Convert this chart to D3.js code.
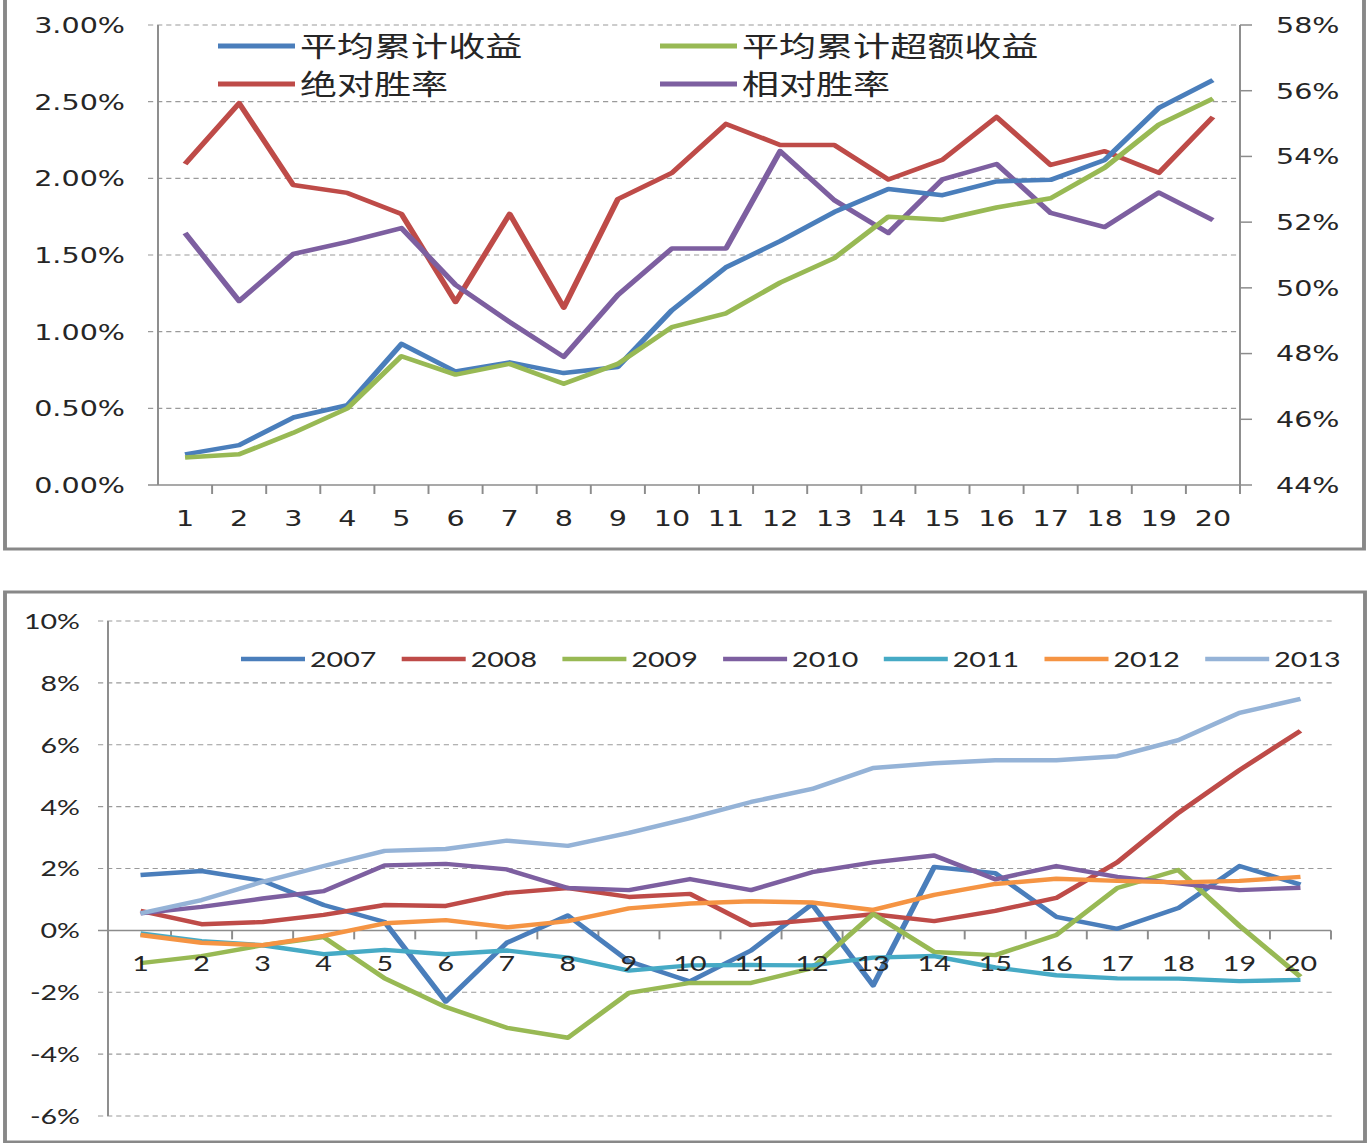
<!DOCTYPE html>
<html>
<head>
<meta charset="utf-8">
<script src="https://cdn.jsdelivr.net/npm/d3@7"></script>
<style>
  html, body { margin: 0; padding: 0; background: #fff; }
  svg { display: block; }
</style>
</head>
<body>
<svg id="chart"></svg>
<script>
// categories (holding period, days)
const days = d3.range(1, 21);

// top chart: average cumulative return (%), left axis
const avgReturn = [0.20, 0.26, 0.44, 0.52, 0.92, 0.74, 0.80, 0.73, 0.77, 1.14,
                   1.42, 1.59, 1.78, 1.93, 1.89, 1.98, 1.99, 2.12, 2.46, 2.64];
const avgExcess = [0.18, 0.20, 0.34, 0.50, 0.84, 0.72, 0.79, 0.66, 0.79, 1.03,
                   1.12, 1.32, 1.48, 1.75, 1.73, 1.81, 1.87, 2.07, 2.35, 2.52];
// top chart: win rates (%), right axis
const absWin = [53.77, 55.62, 53.13, 52.89, 52.25, 49.57, 52.25, 49.40, 52.70, 53.50,
                54.99, 54.35, 54.35, 53.30, 53.90, 55.20, 53.74, 54.16, 53.50, 55.20];
const relWin = [51.67, 49.60, 51.03, 51.40, 51.82, 50.09, 48.96, 47.90, 49.78, 51.20,
                51.20, 54.16, 52.67, 51.67, 53.30, 53.77, 52.28, 51.85, 52.90, 52.06];

const topLeftTicks = [0, 0.5, 1.0, 1.5, 2.0, 2.5, 3.0];
const topRightTicks = [44, 46, 48, 50, 52, 54, 56, 58];

// bottom chart: cumulative return by year (%)
const years = ["2007", "2008", "2009", "2010", "2011", "2012", "2013"];
const y2007 = [1.79, 1.92, 1.60, 0.82, 0.27, -2.30, -0.40, 0.48, -1.00, -1.65,
               -0.65, 0.85, -1.78, 2.05, 1.85, 0.44, 0.05, 0.72, 2.08, 1.48];
const y2008 = [0.63, 0.20, 0.27, 0.50, 0.82, 0.79, 1.21, 1.37, 1.08, 1.18,
               0.17, 0.33, 0.52, 0.30, 0.63, 1.05, 2.20, 3.80, 5.18, 6.45];
const y2009 = [-1.06, -0.83, -0.48, -0.22, -1.55, -2.48, -3.15, -3.47, -2.02, -1.70,
               -1.70, -1.22, 0.53, -0.70, -0.80, -0.15, 1.37, 1.95, 0.15, -1.50];
const y2010 = [0.55, 0.76, 1.03, 1.27, 2.10, 2.15, 1.97, 1.37, 1.30, 1.66,
               1.30, 1.88, 2.20, 2.42, 1.65, 2.08, 1.73, 1.52, 1.30, 1.38];
const y2011 = [-0.10, -0.35, -0.48, -0.77, -0.63, -0.77, -0.65, -0.88, -1.30, -1.13,
               -1.12, -1.13, -0.88, -0.83, -1.20, -1.45, -1.55, -1.56, -1.64, -1.60];
const y2012 = [-0.15, -0.40, -0.48, -0.18, 0.23, 0.33, 0.10, 0.30, 0.71, 0.87,
               0.94, 0.90, 0.66, 1.15, 1.50, 1.67, 1.60, 1.55, 1.60, 1.73];
const y2013 = [0.55, 0.98, 1.57, 2.08, 2.57, 2.63, 2.90, 2.73, 3.15, 3.63,
               4.15, 4.57, 5.25, 5.40, 5.50, 5.50, 5.63, 6.15, 7.03, 7.48];
const bottomTicks = [-6, -4, -2, 0, 2, 4, 6, 8, 10];

// the reference is stretched horizontally, so draw in a narrower box and stretch it
const W = 1368, H = 1143, S = 1.3;
const px = v => v / S;

const svg = d3.select("#chart")
    .attr("width", W)
    .attr("height", H)
    .attr("viewBox", `0 0 ${W / S} ${H}`)
    .attr("preserveAspectRatio", "none");

const gridColor = "#9a9a9a";
const axisColor = "#8c8c8c";
const textColor = "#262626";

// ---------------- top chart ----------------
const topG = svg.append("g");
const topFont = "'DejaVu Sans', Verdana, sans-serif";
const cjkFont = "'Noto Sans CJK SC', 'Noto Sans', sans-serif";

topG.append("rect")
    .attr("x", px(5)).attr("y", -4)
    .attr("width", px(1364) - px(5)).attr("height", 553)
    .attr("fill", "#fff")
    .attr("stroke", "#888").attr("stroke-width", 3);

const xT = d3.scaleBand().domain(days).range([px(158), px(1240)]);
const yL = d3.scaleLinear().domain([0, 3]).range([485, 25]);
const yR = d3.scaleLinear().domain([44, 58]).range([485, 25]);

// gridlines
topG.append("g").selectAll("line")
    .data(topLeftTicks.filter(d => d > 0))
    .enter().append("line")
    .attr("x1", px(148)).attr("x2", px(1240))
    .attr("y1", d => yL(d)).attr("y2", d => yL(d))
    .attr("stroke", gridColor).attr("stroke-width", 1.2)
    .attr("stroke-dasharray", "4,3");

// axes lines
topG.append("line")
    .attr("x1", xT.range()[0]).attr("x2", xT.range()[0])
    .attr("y1", yL(3)).attr("y2", yL(0))
    .attr("stroke", axisColor).attr("stroke-width", 1.5);
topG.append("line")
    .attr("x1", xT.range()[1]).attr("x2", xT.range()[1])
    .attr("y1", yR(58)).attr("y2", yR(44))
    .attr("stroke", axisColor).attr("stroke-width", 1.5);
topG.append("line")
    .attr("x1", px(148)).attr("x2", xT.range()[1])
    .attr("y1", yL(0)).attr("y2", yL(0))
    .attr("stroke", axisColor).attr("stroke-width", 1.5);

// right axis ticks
topG.append("g").selectAll("line")
    .data(topRightTicks)
    .enter().append("line")
    .attr("x1", xT.range()[1]).attr("x2", px(1252))
    .attr("y1", d => yR(d)).attr("y2", d => yR(d))
    .attr("stroke", axisColor).attr("stroke-width", 1.5);

// x ticks at category boundaries
topG.append("g").selectAll("line")
    .data(days.slice(1).concat([21]))
    .enter().append("line")
    .attr("x1", d => xT.range()[0] + xT.step() * (d - 1))
    .attr("x2", d => xT.range()[0] + xT.step() * (d - 1))
    .attr("y1", yL(0)).attr("y2", yL(0) + 9)
    .attr("stroke", axisColor).attr("stroke-width", 1.5);

// tick labels
topG.append("g").selectAll("text")
    .data(topLeftTicks)
    .enter().append("text")
    .attr("x", px(125)).attr("y", d => yL(d)).attr("dy", "0.36em")
    .attr("text-anchor", "end")
    .attr("font-family", topFont).attr("font-size", 22).attr("fill", textColor)
    .text(d => d3.format(".2f")(d) + "%");

topG.append("g").selectAll("text")
    .data(topRightTicks)
    .enter().append("text")
    .attr("x", px(1276)).attr("y", d => yR(d)).attr("dy", "0.36em")
    .attr("font-family", topFont).attr("font-size", 22).attr("fill", textColor)
    .text(d => d + "%");

topG.append("g").selectAll("text")
    .data(days)
    .enter().append("text")
    .attr("x", d => xT(d) + xT.bandwidth() / 2).attr("y", 518).attr("dy", "0.36em")
    .attr("text-anchor", "middle")
    .attr("font-family", topFont).attr("font-size", 22).attr("fill", textColor)
    .text(d => d);

const topSeries = [
    {name: "平均累计收益", values: avgReturn, scale: yL, color: "#4a7ebb"},
    {name: "平均累计超额收益", values: avgExcess, scale: yL, color: "#98b954"},
    {name: "绝对胜率", values: absWin, scale: yR, color: "#be4b48"},
    {name: "相对胜率", values: relWin, scale: yR, color: "#7d5fa0"}
];

// win rates first, returns on top
const drawOrder = [2, 3, 0, 1];
drawOrder.forEach(i => {
    const s = topSeries[i];
    const line = d3.line()
        .x((d, j) => xT(days[j]) + xT.bandwidth() / 2)
        .y(d => s.scale(d));
    topG.append("path")
        .datum(s.values)
        .attr("d", line)
        .attr("fill", "none")
        .attr("stroke", s.color)
        .attr("stroke-width", 4.5)
        .attr("stroke-linejoin", "round");
});

// legend (2 x 2)
const topLegend = topG.append("g").selectAll("g")
    .data(topSeries)
    .enter().append("g")
    .attr("transform", (d, i) => `translate(${px(i % 2 === 0 ? 218 : 660)},${i < 2 ? 46 : 84})`);
topLegend.append("line")
    .attr("x1", 0).attr("x2", px(77))
    .attr("stroke", d => d.color).attr("stroke-width", 5);
topLegend.append("text")
    .attr("x", px(82)).attr("dy", "0.37em")
    .attr("font-family", cjkFont).attr("font-size", 28.5).attr("fill", textColor)
    .text(d => d.name);

// ---------------- bottom chart ----------------
const botG = svg.append("g");
const botFont = "Lato, 'Open Sans', sans-serif";

botG.append("rect")
    .attr("x", px(5)).attr("y", 592)
    .attr("width", px(1365) - px(5)).attr("height", 550)
    .attr("fill", "#fff")
    .attr("stroke", "#888").attr("stroke-width", 3);

const xB = d3.scaleBand().domain(days).range([px(110), px(1331)]);
const yB = d3.scaleLinear().domain([-6, 10]).range([1116, 621]);

botG.append("g").selectAll("line")
    .data(bottomTicks.filter(d => d !== 0))
    .enter().append("line")
    .attr("x1", px(98)).attr("x2", px(1334))
    .attr("y1", d => yB(d)).attr("y2", d => yB(d))
    .attr("stroke", gridColor).attr("stroke-width", 1.2)
    .attr("stroke-dasharray", "4,3");

botG.append("line")
    .attr("x1", px(108)).attr("x2", px(108))
    .attr("y1", yB(10)).attr("y2", yB(-6))
    .attr("stroke", axisColor).attr("stroke-width", 1.5);
botG.append("line")
    .attr("x1", px(98)).attr("x2", xB.range()[1])
    .attr("y1", yB(0)).attr("y2", yB(0))
    .attr("stroke", axisColor).attr("stroke-width", 1.5);

botG.append("g").selectAll("line")
    .data(days.slice(1).concat([21]))
    .enter().append("line")
    .attr("x1", d => xB.range()[0] + xB.step() * (d - 1))
    .attr("x2", d => xB.range()[0] + xB.step() * (d - 1))
    .attr("y1", yB(0)).attr("y2", yB(0) + 9)
    .attr("stroke", axisColor).attr("stroke-width", 1.5);

botG.append("g").selectAll("text")
    .data(bottomTicks)
    .enter().append("text")
    .attr("x", px(80)).attr("y", d => yB(d)).attr("dy", "0.36em")
    .attr("text-anchor", "end")
    .attr("font-family", botFont).attr("font-size", 22).attr("fill", textColor)
    .text(d => d + "%");

const botSeries = [
    {name: years[0], values: y2007, color: "#4a7ebb"},
    {name: years[1], values: y2008, color: "#be4b48"},
    {name: years[2], values: y2009, color: "#98b954"},
    {name: years[3], values: y2010, color: "#7d5fa0"},
    {name: years[4], values: y2011, color: "#46aac5"},
    {name: years[5], values: y2012, color: "#f59443"},
    {name: years[6], values: y2013, color: "#95b3d7"}
];

const lineB = d3.line()
    .x((d, j) => xB(days[j]) + xB.bandwidth() / 2)
    .y(d => yB(d));

botG.append("g").selectAll("path")
    .data(botSeries)
    .enter().append("path")
    .attr("d", d => lineB(d.values))
    .attr("fill", "none")
    .attr("stroke", d => d.color)
    .attr("stroke-width", 4.4)
    .attr("stroke-linejoin", "round");

// x labels sit on top of the lines, next to the axis
botG.append("g").selectAll("text")
    .data(days)
    .enter().append("text")
    .attr("x", d => xB(d) + xB.bandwidth() / 2).attr("y", 963).attr("dy", "0.36em")
    .attr("text-anchor", "middle")
    .attr("font-family", botFont).attr("font-size", 22).attr("fill", textColor)
    .text(d => d);

const botLegend = botG.append("g").selectAll("g")
    .data(botSeries)
    .enter().append("g")
    .attr("transform", (d, i) => `translate(${px(241 + i * 160.7)},659)`);
botLegend.append("line")
    .attr("x1", 0).attr("x2", px(64))
    .attr("stroke", d => d.color).attr("stroke-width", 4.5);
botLegend.append("text")
    .attr("x", px(69)).attr("dy", "0.36em")
    .attr("font-family", botFont).attr("font-size", 22).attr("fill", textColor)
    .text(d => d.name);
</script>
</body>
</html>
